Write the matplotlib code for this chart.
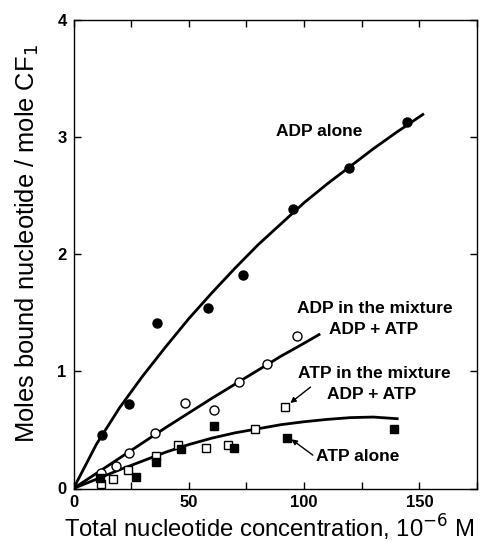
import matplotlib
matplotlib.use("Agg")
import matplotlib.pyplot as plt
from matplotlib.ticker import MultipleLocator

plt.rcParams['font.family'] = ['Liberation Sans', 'DejaVu Sans']

# Measured points (x in 10^-6 M, y in moles bound / mole CF1)
adp_alone_x = [12.4, 23.9, 36.2, 58.3, 73.5, 95.1, 119.4, 144.7]
adp_alone_y = [0.46, 0.72, 1.41, 1.54, 1.82, 2.39, 2.74, 3.13]

adp_mix_x = [12.0, 18.5, 23.9, 35.2, 48.2, 61.0, 71.7, 84.0, 97.1]
adp_mix_y = [0.13, 0.19, 0.30, 0.47, 0.73, 0.67, 0.91, 1.06, 1.30]

atp_mix_x = [12.0, 17.2, 23.5, 35.9, 45.2, 57.6, 66.8, 78.9, 91.8]
atp_mix_y = [0.04, 0.08, 0.16, 0.28, 0.37, 0.35, 0.37, 0.51, 0.70]

atp_alone_x = [11.7, 27.1, 35.9, 46.8, 61.0, 69.4, 92.8, 139.1]
atp_alone_y = [0.09, 0.10, 0.23, 0.34, 0.53, 0.35, 0.43, 0.51]

# Hand-drawn curves
adp_curve_x = [0, 10, 20, 30, 40, 50, 60, 70, 80, 90, 100, 110, 120, 130, 140, 152]
adp_curve_y = [0, 0.38, 0.69, 0.96, 1.21, 1.45, 1.67, 1.88, 2.08, 2.26, 2.44, 2.60, 2.75, 2.90, 3.04, 3.20]

mix_curve_x = [0, 10, 20, 30, 40, 50, 60, 70, 80, 90, 100, 107]
mix_curve_y = [0, 0.13, 0.26, 0.39, 0.52, 0.645, 0.77, 0.89, 1.01, 1.13, 1.24, 1.32]

atp_curve_x = [0, 10, 20, 30, 40, 50, 60, 70, 80, 90, 100, 110, 120, 130, 141]
atp_curve_y = [0, 0.08, 0.16, 0.235, 0.31, 0.375, 0.43, 0.475, 0.51, 0.545, 0.57, 0.59, 0.605, 0.61, 0.595]

fig = plt.figure(figsize=(4.83, 5.49), dpi=100)
ax = fig.add_axes([73.5 / 483, (549 - 488.5) / 549, (477 - 73.5) / 483, (488.5 - 20) / 549])

lw = 2.0
ax.plot(adp_curve_x, adp_curve_y, color='black', lw=lw, solid_capstyle='butt')
ax.plot(mix_curve_x, mix_curve_y, color='black', lw=lw, solid_capstyle='butt')
ax.plot(atp_curve_x, atp_curve_y, color='black', lw=lw, solid_capstyle='butt')

ax.plot(adp_alone_x, adp_alone_y, 'o', color='black', ms=6.5, zorder=3)
ax.plot(adp_mix_x, adp_mix_y, 'o', mfc='white', mec='black', mew=1.0, ms=6.5, zorder=3)
ax.plot(atp_mix_x, atp_mix_y, 's', mfc='white', mec='black', mew=1.0, ms=6.0, zorder=3)
ax.plot(atp_alone_x, atp_alone_y, 's', color='black', ms=6.0, zorder=3)

ax.set_xlim(0, 175)
ax.set_ylim(0, 4)
ax.xaxis.set_major_locator(MultipleLocator(50))
ax.xaxis.set_minor_locator(MultipleLocator(25))
ax.yaxis.set_major_locator(MultipleLocator(1))
ax.tick_params(which='both', direction='in', top=True, right=True, length=5, width=1)
ax.tick_params(axis='both', labelsize=12, pad=5)
for lab in ax.get_xticklabels() + ax.get_yticklabels():
    lab.set_fontweight('bold')
for s in ax.spines.values():
    s.set_linewidth(1.0)

# axis titles placed to match the original page
fig.text(269 / 483, 1 - 528 / 549, 'Total nucleotide concentration, 10$^{-6}$ M',
         fontsize=17.2, ha='center', va='center')
fig.text(27 / 483, 1 - 244 / 549, 'Moles bound nucleotide / mole CF$_1$',
         fontsize=18.4, ha='center', va='center', rotation=90)

tkw = dict(fontsize=12.5, fontweight='bold', ha='center', va='center')
ax.text(106.7, 3.05, 'ADP alone', **tkw)
ax.text(130.5, 1.536, 'ADP in the mixture', **tkw)
ax.text(130.1, 1.357, 'ADP + ATP', **tkw)
ax.text(130.4, 0.983, 'ATP in the mixture', **tkw)
ax.text(129.4, 0.804, 'ADP + ATP', **tkw)
ax.text(123.2, 0.27, 'ATP alone', **tkw)

akw = dict(arrowstyle='-|>', color='black', lw=1.0, mutation_scale=8, shrinkA=0, shrinkB=0)
ax.annotate('', xy=(94.0, 0.73), xytext=(102.8, 0.866), arrowprops=akw)
ax.annotate('', xy=(94.5, 0.42), xytext=(103.8, 0.285), arrowprops=akw)

fig.savefig('out.png', dpi=100)
